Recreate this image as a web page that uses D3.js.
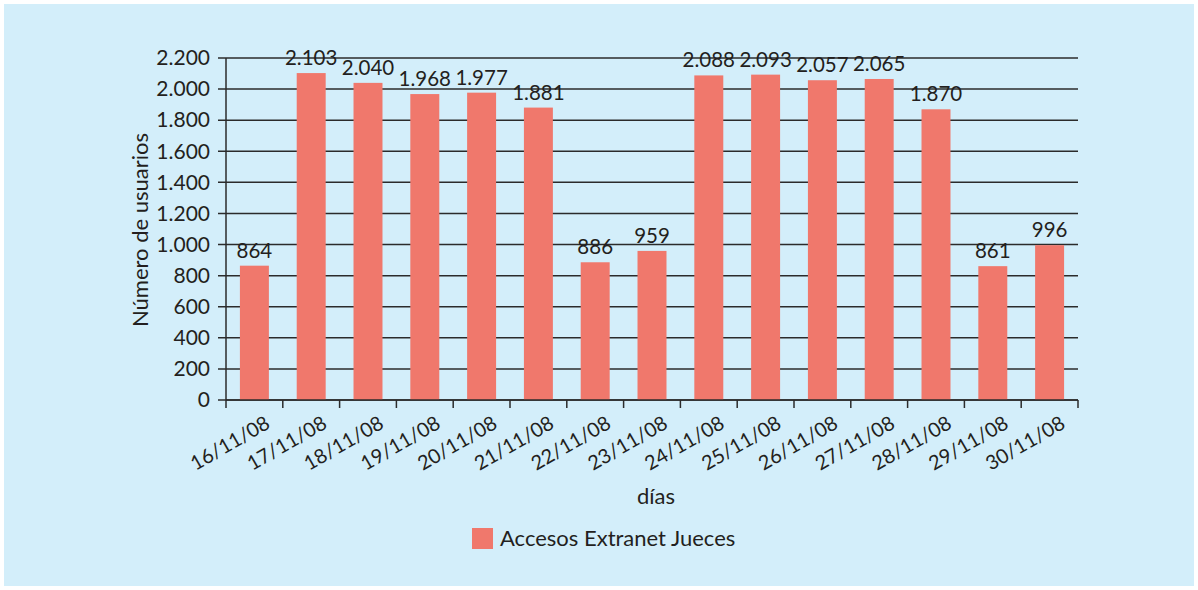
<!DOCTYPE html>
<html>
<head>
<script src="https://d3js.org/d3.v7.min.js"></script>
<style>
  body { margin: 0; background: #fff; }
  text { font-family: Lato, "Open Sans", sans-serif; fill: #231f20; }
</style>
</head>
<body>
<svg width="1198" height="590"></svg>
<script>
// datos
const dias = ["16/11/08","17/11/08","18/11/08","19/11/08","20/11/08","21/11/08","22/11/08","23/11/08","24/11/08","25/11/08","26/11/08","27/11/08","28/11/08","29/11/08","30/11/08"];
const accesos = [864, 2103, 2040, 1968, 1977, 1881, 886, 959, 2088, 2093, 2057, 2065, 1870, 861, 996];
const yTicks = [0, 200, 400, 600, 800, 1000, 1200, 1400, 1600, 1800, 2000, 2200];
const serieNombre = "Accesos Extranet Jueces";

const color = "#f0786c";
const es = d3.formatLocale({ decimal: ",", thousands: ".", grouping: [3], currency: ["", "€"] });
const fmt = es.format(",d");

const svg = d3.select("svg");

// fondo
svg.append("rect")
  .attr("x", 4).attr("y", 4)
  .attr("width", 1190).attr("height", 582)
  .attr("fill", "#d3eefa");

const plot = { left: 226, right: 1078, top: 58, bottom: 400 };

const x = d3.scaleBand().domain(dias).range([plot.left, plot.right]).paddingInner(0.49).paddingOuter(0.245);
const y = d3.scaleLinear().domain([0, 2200]).range([plot.bottom, plot.top]);

// rejilla
svg.append("g")
  .selectAll("line")
  .data(yTicks)
  .join("line")
  .attr("x1", plot.left - 8).attr("x2", plot.right)
  .attr("y1", d => y(d)).attr("y2", d => y(d))
  .attr("stroke", "#2b2b2b").attr("stroke-width", 1.5);

// barras
svg.append("g")
  .selectAll("rect")
  .data(accesos)
  .join("rect")
  .attr("x", (d, i) => x(dias[i]))
  .attr("y", d => y(d))
  .attr("width", x.bandwidth())
  .attr("height", d => plot.bottom - y(d))
  .attr("fill", color);

// etiquetas de valores
svg.append("g")
  .selectAll("text")
  .data(accesos)
  .join("text")
  .attr("x", (d, i) => x(dias[i]) + x.bandwidth() / 2)
  .attr("y", d => y(d) - 8)
  .attr("text-anchor", "middle")
  .style("font-size", "20.5px")
  .text(d => fmt(d));

// eje y
const yAxis = svg.append("g")
  .attr("transform", `translate(${plot.left},0)`)
  .call(d3.axisLeft(y).tickValues(yTicks).tickSize(8).tickFormat(fmt));
yAxis.select(".domain").attr("stroke", "#2b2b2b").attr("stroke-width", 1.5).attr("d", `M0,${plot.top}V${plot.bottom}`);
yAxis.selectAll(".tick line").remove();
yAxis.selectAll(".tick text").attr("x", -16).style("font-size", "21px").style("font-family", "Lato, sans-serif").attr("fill", "#231f20");

// eje x
const step = x.step();
const bounds = d3.range(dias.length + 1).map(i => plot.left + i * step);
svg.append("g")
  .selectAll("line")
  .data(bounds)
  .join("line")
  .attr("x1", d => d).attr("x2", d => d)
  .attr("y1", plot.bottom).attr("y2", plot.bottom + 8)
  .attr("stroke", "#2b2b2b").attr("stroke-width", 1.5);
svg.append("line")
  .attr("x1", plot.left).attr("x2", plot.right)
  .attr("y1", plot.bottom).attr("y2", plot.bottom)
  .attr("stroke", "#2b2b2b").attr("stroke-width", 1.5);

svg.append("g")
  .selectAll("text")
  .data(dias)
  .join("text")
  .attr("text-anchor", "end")
  .attr("transform", d => `translate(${x(d) + x.bandwidth() / 2 + 10},${plot.bottom + 15}) rotate(-30)`)
  .attr("dy", "0.7em")
  .style("font-size", "20px")
  .text(d => d);

// títulos
svg.append("text")
  .attr("x", 656).attr("y", 504)
  .attr("text-anchor", "middle")
  .style("font-size", "22px")
  .text("días");

svg.append("text")
  .attr("transform", "rotate(-90)")
  .attr("x", -230).attr("y", 148)
  .attr("text-anchor", "middle")
  .style("font-size", "22px")
  .text("Número de usuarios");

// leyenda
svg.append("rect")
  .attr("x", 472).attr("y", 528)
  .attr("width", 21).attr("height", 21)
  .attr("fill", color);
svg.append("text")
  .attr("x", 500).attr("y", 546)
  .style("font-size", "22px")
  .text(serieNombre);
</script>
</body>
</html>
